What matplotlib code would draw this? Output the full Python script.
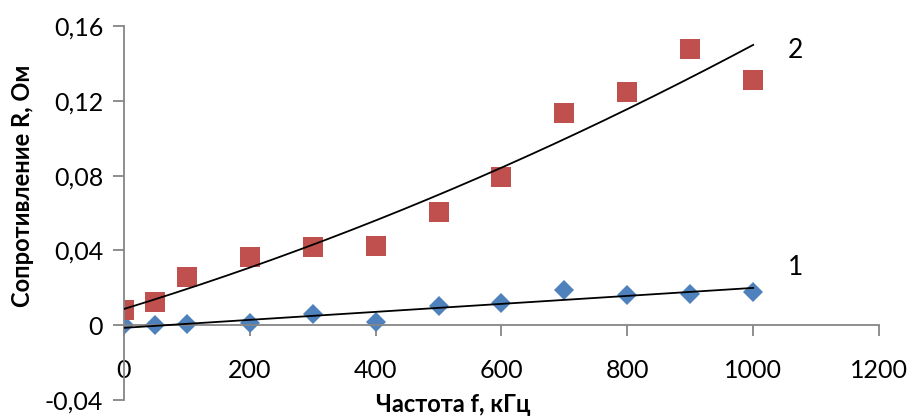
import numpy as np
import matplotlib
matplotlib.use("Agg")
import matplotlib.pyplot as plt

## data
freq = [0, 50, 100, 200, 300, 400, 500, 600, 700, 800, 900, 1000]          ## kHz
r1 = [0.0, 0.0, 0.0005, 0.001, 0.006, 0.0018, 0.0103, 0.0121, 0.0189, 0.0162, 0.0167, 0.018]
r2 = [0.0082, 0.0126, 0.0257, 0.0362, 0.0419, 0.0421, 0.0605, 0.0792, 0.1134, 0.1245, 0.1477, 0.1311]

xticks = [0, 200, 400, 600, 800, 1000, 1200]
yticks = [-0.04, 0, 0.04, 0.08, 0.12, 0.16]
ytick_labels = ["-0,04", "0", "0,04", "0,08", "0,12", "0,16"]

plt.rcParams['font.family'] = ['Lato', 'DejaVu Sans']

fig = plt.figure(figsize=(9.09, 4.16), dpi=100)
ax = fig.add_axes([0.1364, 0.0385, 0.8306, 0.899])

## trendlines: linear for 1, quadratic for 2
xf = np.linspace(0, 1000, 200)
p1 = np.polyfit(freq, r1, 1)
p2 = np.polyfit(freq, r2, 2)
ax.plot(xf, np.polyval(p1, xf), color='black', lw=1.3, zorder=3)
ax.plot(xf, np.polyval(p2, xf), color='black', lw=1.3, zorder=3)

ax.plot(freq, r1, 'D', color='#4F81BD', markersize=10.5, markeredgewidth=0, zorder=2)
ax.plot(freq, r2, 's', color='#C0504D', markersize=15, markeredgewidth=0, zorder=2)

ax.text(1067, 0.031, "1", fontsize=19, ha='center', va='center')
ax.text(1067, 0.147, "2", fontsize=19, ha='center', va='center')

ax.set_xlim(0, 1200)
ax.set_ylim(-0.04, 0.16)
ax.set_xticks(xticks)
ax.set_yticks(yticks)
ax.set_yticklabels(ytick_labels)

## axes cross at zero like in Excel
ax.spines['bottom'].set_position(('data', 0))
ax.spines['left'].set_position(('data', 0))
ax.spines['top'].set_visible(False)
ax.spines['right'].set_visible(False)
for s in ['bottom', 'left']:
    ax.spines[s].set_color('#868686')
    ax.spines[s].set_linewidth(1.3)
ax.tick_params(axis='both', colors='#868686', width=1.3, length=8, labelsize=18, labelcolor='black')
ax.tick_params(axis='x', pad=16)
ax.tick_params(axis='y', pad=7)

## axis titles placed in figure pixels
fig.text(453 / 909, 1 - 404 / 416, "Частота f, кГц", fontsize=17, fontweight='bold',
         ha='center', va='center')
fig.text(23 / 909, 1 - 186 / 416, "Сопротивление R, Ом", fontsize=17, fontweight='bold',
         ha='center', va='center', rotation=90)

fig.savefig("out.png", dpi=100)
